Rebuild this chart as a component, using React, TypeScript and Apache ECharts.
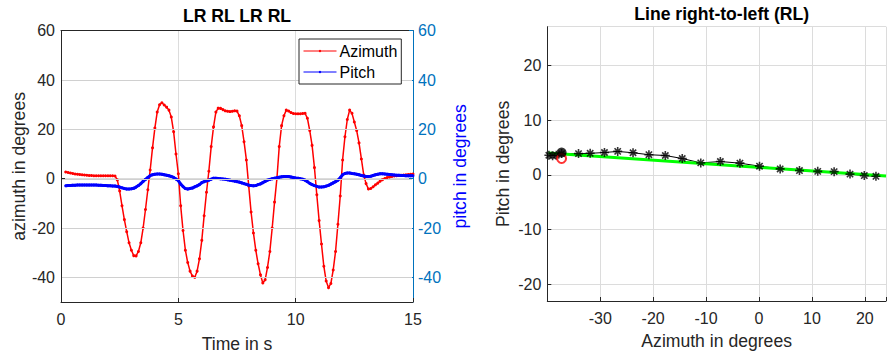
import React, { useEffect, useRef } from "react";
import * as echarts from "echarts";

// ---- Left plot: time series (sampled every 0.1 s from 0.2 s) ----
const T0 = 0.2;
const DT = 0.1;
const azimuth = [
  2.7, 2.5, 2.3, 2.1, 1.9, 1.8, 1.7, 1.6, 1.5, 1.4,
  1.3, 1.3, 1.2, 1.2, 1.2, 1.2, 1.2, 1.2, 1.2, 1.2,
  1.2, 1.1, -0.5, -5, -11, -16.6, -21.5, -26, -29, -31.2,
  -31.3, -29.5, -26, -20, -12.5, -4.5, 3.5, 12.5, 20.5, 27,
  30, 30.8, 29.9, 29, 27.8, 25, 19, 10, 2, -11,
  -21, -29, -34, -37.5, -39.5, -40, -37.5, -32.5, -25, -15,
  -5.5, 3, 13, 21, 27, 28.6, 28.5, 28, 27.5, 27.3,
  27.2, 27.3, 27.5, 27.4, 25.5, 21.5, 15, 7.6, -3, -13.5,
  -22, -29, -34.5, -39, -42.3, -41, -36, -29.5, -20, -9.5,
  0, 13, 21.5, 25.5, 27.8, 27.4, 26.8, 26.4, 26.3, 26.3,
  26.3, 26.4, 26.5, 24.5, 19.5, 13.5, 4.5, -6.5, -17, -26.5,
  -35.5, -41.5, -44.2, -42.5, -37, -29.5, -18.5, -7, 7.6, 17,
  24, 27.8, 26.5, 23, 19.5, 14.5, 8, 1.5, -2, -4.2,
  -4.0, -3.3, -2.5, -1.8, -1.0, -0.4, 0.1, 0.5, 0.7, 0.9,
  1.1, 1.2, 1.3, 1.4, 1.5, 1.6, 1.7, 1.8, 1.9,
];
const pitch = [
  -2.9, -2.8, -2.8, -2.7, -2.7, -2.6, -2.6, -2.6, -2.6, -2.6,
  -2.6, -2.6, -2.6, -2.6, -2.7, -2.7, -2.8, -2.8, -2.9, -2.9,
  -3.0, -3.0, -3.2, -3.4, -3.7, -4.0, -4.2, -4.2, -4.1, -3.9,
  -3.4, -2.8, -2.0, -1.1, -0.3, 0.5, 1.2, 1.6, 1.8, 1.9,
  1.9, 1.8, 1.6, 1.4, 1.2, 0.9, 0.5, -0.1, -0.8, -2.2,
  -3.2, -4.0, -4.2, -4.0, -3.8, -3.3, -2.9, -2.4, -1.6, -1.2,
  -0.9, -0.6, -0.2, 0.2, 0.2, 0.1, 0.0, -0.1, -0.2, -0.4,
  -0.6, -0.8, -1.0, -1.2, -1.4, -1.7, -2.0, -2.3, -2.6, -2.8,
  -2.9, -2.8, -2.4, -2.1, -1.6, -1.1, -0.6, -0.3, 0.0, 0.2,
  0.4, 0.6, 0.8, 0.9, 0.9, 0.9, 0.7, 0.5, 0.3, 0.2,
  0.0, -0.2, -0.6, -1.2, -1.9, -2.4, -2.8, -3.1, -3.4, -3.4,
  -3.3, -3.0, -2.7, -2.2, -1.7, -1.2, -0.6, 0.4, 1.6, 2.1,
  2.3, 2.3, 2.1, 2.0, 1.8, 1.6, 1.3, 1.1, 0.9, 0.9,
  1.0, 1.3, 1.6, 1.8, 2.0, 2.0, 1.9, 1.8, 1.7, 1.6,
  1.5, 1.4, 1.4, 1.3, 1.3, 1.2, 1.2, 1.2, 1.2,
];
const leftGridValues = [-40, -20, 0, 20, 40];
const timeRange = [0, 15];

// ---- Right plot: line right-to-left ----
const azRL = [-39.7, -39.0, -38.3, -37.3, -34.1, -31.9, -29.2, -26.7, -23.8, -20.8, -17.7, -14.5, -11.0, -7.3, -3.6, 0.1, 4.0, 7.65, 11.1, 14.2, 17.2, 19.9, 22.1];
const pitchRL = [3.6, 3.5, 3.6, 3.9, 3.9, 3.95, 4.1, 4.3, 4.05, 3.7, 3.55, 3.0, 2.2, 2.45, 2.15, 1.6, 1.1, 0.8, 0.65, 0.6, 0.15, -0.12, -0.25];
const fitAz = [-39.8, 24];
const fitPitch = [4.0, -0.2];
const startPoint = [-37.3, 4.1];
const targetPoint = [-37.3, 3.0];

const FONT = "'Liberation Sans', Arial, Helvetica, sans-serif";
const AX = "#262626";
const GRIDC = "#dcdcdc";
const GRIDC_LEFT = "#d0d0d0";
const ASTERISK = "path://M5 0V10M0 5H10M1.5 1.5L8.5 8.5M1.5 8.5L8.5 1.5";

export default function App() {
  const ref = useRef<HTMLDivElement>(null);
  useEffect(() => {
    if (!ref.current) return;
    const chart = echarts.init(ref.current, null, { renderer: "svg" });
    const times = azimuth.map((_, i) => +(T0 + i * DT).toFixed(2));
    const tickLbl = { fontSize: 16, fontFamily: FONT, color: AX };
    const nameStyle = { fontSize: 17.6, fontFamily: FONT, color: AX };
    const titles = [
      { type: "text", x: 237, y: 16, style: { text: "LR RL LR RL", fontSize: 17.6, fontWeight: "bold", fontFamily: FONT, fill: "#000", align: "center", verticalAlign: "middle" } },
      { type: "text", x: 721.7, y: 13.5, style: { text: "Line right-to-left (RL)", fontSize: 17.6, fontWeight: "bold", fontFamily: FONT, fill: "#000", align: "center", verticalAlign: "middle" } },
    ];
    chart.setOption({
      animation: false,
      textStyle: { fontFamily: FONT },
      grid: [
        { left: 61, right: 476, top: 30.7, bottom: 55.3, show: false },
        { left: 547.3, right: -6, top: 26.7, bottom: 57, show: false },
      ],
      legend: {
        data: ["Azimuth", "Pitch"],
        orient: "vertical",
        left: 299,
        top: 39,
        z: 200,
        padding: [4, 4, 4, 4],
        itemGap: 5,
        itemWidth: 33,
        itemHeight: 3,
        lineStyle: { width: 1 },
        backgroundColor: "#ffffff",
        borderColor: AX,
        borderWidth: 1,
        borderRadius: 0,
        textStyle: { fontSize: 16, fontFamily: FONT, color: "#000", padding: [0, 0, 0, -2] },
      },
      xAxis: [
        {
          type: "value", gridIndex: 0, min: 0, max: 15, interval: 5,
          name: "Time in s", nameLocation: "middle", nameGap: 33, nameTextStyle: nameStyle,
          axisLine: { show: true, onZero: false, lineStyle: { color: AX, width: 1 } },
          axisTick: { show: true, inside: true, length: 4, lineStyle: { color: AX } },
          axisLabel: { ...tickLbl, margin: 9 },
          splitLine: { show: true, lineStyle: { color: GRIDC, width: 1 } },
        },
        {
          type: "value", gridIndex: 1, min: -40, max: 24, interval: 10,
          name: "Azimuth in degrees", nameLocation: "middle", nameGap: 31, nameTextStyle: nameStyle,
          axisLine: { show: true, onZero: false, lineStyle: { color: AX, width: 1 } },
          axisTick: { show: true, inside: true, length: 4, lineStyle: { color: AX } },
          axisLabel: {
            ...tickLbl, margin: 9,
            formatter: (v: number) => (v === -40 || v % 10 !== 0 ? "" : String(v)),
          },
          splitLine: { show: true, lineStyle: { color: GRIDC, width: 1 } },
        },
        {
          type: "value", gridIndex: 0, min: 0, max: 15, interval: 5, position: "top",
          axisLine: { show: true, onZero: false, lineStyle: { color: AX, width: 1 } },
          axisTick: { show: false }, axisLabel: { show: false }, splitLine: { show: false },
        },
      ],
      yAxis: [
        {
          type: "value", gridIndex: 0, min: -50, max: 60, splitNumber: 5, position: "left",
          name: "azimuth in degrees", nameLocation: "middle", nameGap: 33, nameTextStyle: nameStyle,
          axisLine: { show: true, onZero: false, lineStyle: { color: AX, width: 1 } },
          axisTick: { show: true, inside: true, length: 4, lineStyle: { color: AX } },
          axisLabel: { ...tickLbl, margin: 6, showMinLabel: false },
          splitLine: { show: true, lineStyle: { color: GRIDC, width: 1 } },
        },
        {
          type: "value", gridIndex: 0, min: -50, max: 60, splitNumber: 5, position: "right",
          name: "pitch in degrees", nameLocation: "middle", nameGap: 38,
          nameTextStyle: { ...nameStyle, color: "#0000ff" },
          axisLine: { show: true, onZero: false, lineStyle: { color: "#0072BD", width: 1 } },
          axisTick: { show: true, inside: true, length: 4, lineStyle: { color: "#0072BD" } },
          axisLabel: { ...tickLbl, color: "#0072BD", margin: 5, showMinLabel: false },
          splitLine: { show: false },
        },
        {
          type: "value", gridIndex: 1, min: -23.05, max: 27.1, splitNumber: 5,
          name: "Pitch in degrees", nameLocation: "middle", nameGap: 35, nameTextStyle: nameStyle,
          axisLine: { show: true, onZero: false, lineStyle: { color: AX, width: 1 } },
          axisTick: { show: true, inside: true, length: 4, lineStyle: { color: AX } },
          axisLabel: { ...tickLbl, margin: 6, showMinLabel: false, showMaxLabel: false },
          splitLine: { show: true, lineStyle: { color: GRIDC, width: 1 } },
        },
      ],
      graphic: titles,
      series: [
        {
          name: "Azimuth", type: "line", xAxisIndex: 0, yAxisIndex: 0,
          data: times.map((t, i) => [t, azimuth[i]]),
          symbol: "circle", symbolSize: 3, showSymbol: true, showAllSymbol: true,
          lineStyle: { color: "#ff0000", width: 1.5 }, itemStyle: { color: "#ff0000" },
          z: 2,
        },
        {
          name: "Pitch", type: "line", xAxisIndex: 0, yAxisIndex: 1,
          data: times.map((t, i) => [t, pitch[i]]),
          symbol: "circle", symbolSize: 3, showSymbol: true, showAllSymbol: true,
          lineStyle: { color: "#0000ff", width: 3 }, itemStyle: { color: "#0000ff" },
          z: 3,
        },
        {
          name: "RL path", type: "line", xAxisIndex: 1, yAxisIndex: 2,
          data: azRL.map((a, i) => [a, pitchRL[i]]),
          symbol: "none", lineStyle: { color: "#000", width: 1 }, z: 2,
        },
        {
          name: "RL fit", type: "line", xAxisIndex: 1, yAxisIndex: 2,
          data: fitAz.map((a, i) => [a, fitPitch[i]]),
          symbol: "none", lineStyle: { color: "#00ff00", width: 3 }, z: 3,
        },
        {
          name: "RL points", type: "scatter", xAxisIndex: 1, yAxisIndex: 2,
          data: azRL.map((a, i) => [a, pitchRL[i]]),
          symbol: ASTERISK, symbolSize: 9,
          itemStyle: { color: "none", borderColor: "#000", borderWidth: 1.6 }, z: 4,
        },
        {
          name: "Target", type: "scatter", xAxisIndex: 1, yAxisIndex: 2,
          data: [targetPoint], symbol: "circle", symbolSize: 9,
          itemStyle: { color: "none", borderColor: "#ff0000", borderWidth: 2 }, z: 5,
        },
        {
          name: "Start", type: "scatter", xAxisIndex: 1, yAxisIndex: 2,
          data: [startPoint], symbol: "circle", symbolSize: 10,
          itemStyle: { color: "#000" }, z: 6,
        },
      ],
    });
    // horizontal grid lines of the left plot, placed through the library's own scales
    const gridRects: any[] = [];
    leftGridValues.forEach((v) => {
      const p0 = chart.convertToPixel({ gridIndex: 0 }, [timeRange[0], v]) as number[];
      const p1 = chart.convertToPixel({ gridIndex: 0 }, [timeRange[1], v]) as number[];
      if (!p0 || !p1 || !isFinite(p0[1])) return;
      const y = Math.round(p0[1]);
      gridRects.push({
        type: "rect", z: 100, silent: true,
        shape: { x: p0[0] + 1, y: y, width: p1[0] - p0[0] - 2, height: 1 },
        style: { fill: GRIDC_LEFT },
      });
    });
    chart.setOption({ graphic: [...titles, ...gridRects] });
    return () => chart.dispose();
  }, []);
  return (
    <div
      ref={ref}
      style={{ position: "fixed", left: 0, top: 0, width: 889, height: 358, background: "#fff" }}
    />
  );
}
